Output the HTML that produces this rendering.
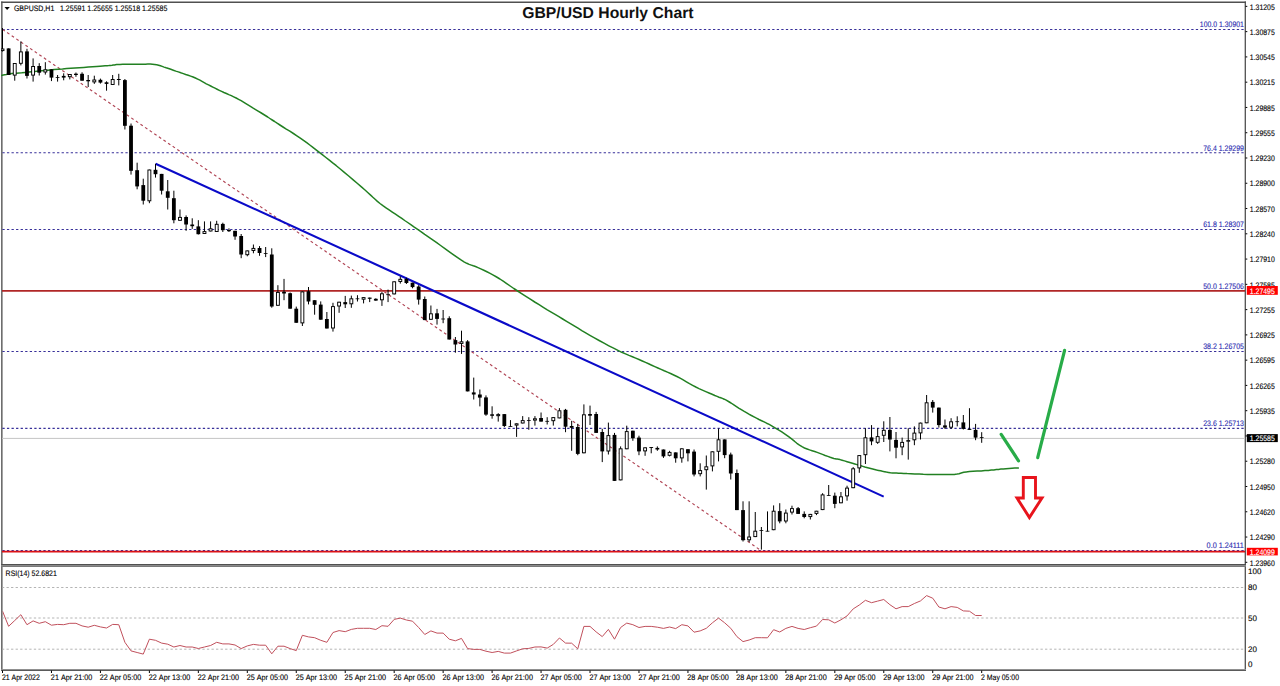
<!DOCTYPE html>
<html><head><meta charset="utf-8"><title>GBP/USD Hourly Chart</title>
<style>html,body{margin:0;padding:0;background:#fff;width:1280px;height:686px;overflow:hidden}
svg,text{font-family:"Liberation Sans",sans-serif}</style></head>
<body>
<svg width="1280" height="686" viewBox="0 0 1280 686" style="display:block" font-family="Liberation Sans, sans-serif" text-rendering="geometricPrecision">
<rect width="1280" height="686" fill="#fff"/>
<defs><clipPath id="cm"><rect x="1" y="1.5" width="1244.6" height="563"/></clipPath><clipPath id="cr"><rect x="2.5" y="567" width="1242.5" height="102"/></clipPath></defs>
<line x1="1.2" y1="2.2" x2="1246" y2="2.2" stroke="#505050" stroke-width="1.35"/>
<line x1="1.85" y1="1.5" x2="1.85" y2="671" stroke="#505050" stroke-width="1.35"/>
<line x1="1245.3" y1="1.5" x2="1245.3" y2="671" stroke="#505050" stroke-width="1.3"/>
<rect x="1.2" y="564" width="1244.8" height="1" fill="#505050"/>
<rect x="1.2" y="565" width="1244.8" height="1" fill="#8a8a8a"/>
<rect x="1.2" y="566" width="1244.8" height="1" fill="#7a7a7a"/>
<rect x="1.2" y="669" width="1244.8" height="1" fill="#909090"/>
<rect x="1.2" y="670" width="1244.8" height="1" fill="#5a5a5a"/>
<g clip-path="url(#cm)">
<line x1="2" y1="438.4" x2="1245" y2="438.4" stroke="#c4c4c4" stroke-width="1"/>
<line x1="2.395" y1="29.50" x2="1245" y2="29.50" stroke="#38309a" stroke-width="1.15" stroke-dasharray="2.3 2.255"/>
<line x1="2.395" y1="152.70" x2="1245" y2="152.70" stroke="#38309a" stroke-width="1.15" stroke-dasharray="2.3 2.255"/>
<line x1="2.395" y1="229.45" x2="1245" y2="229.45" stroke="#38309a" stroke-width="1.15" stroke-dasharray="2.3 2.255"/>
<line x1="2.395" y1="351.50" x2="1245" y2="351.50" stroke="#38309a" stroke-width="1.15" stroke-dasharray="2.3 2.255"/>
<line x1="2.395" y1="428.40" x2="1245" y2="428.40" stroke="#38309a" stroke-width="1.15" stroke-dasharray="2.3 2.255"/>
<line x1="2.395" y1="550.50" x2="1245" y2="550.50" stroke="#38309a" stroke-width="1.15" stroke-dasharray="2.3 2.255"/>
<line x1="2" y1="290.9" x2="1245" y2="290.9" stroke="#b02626" stroke-width="1.7"/>
<line x1="2" y1="551.7" x2="1245" y2="551.7" stroke="#dc1216" stroke-width="1.7"/>
<line x1="2.5" y1="29.4" x2="761.4" y2="550.8" stroke="#b04454" stroke-width="1.15" stroke-dasharray="2.8 2.78"/>
<polyline fill="none" stroke="#228022" stroke-width="1.5" stroke-linejoin="round" points="1.2,75.5 2.1,75.3 3.3,75.0 4.7,74.7 6.3,74.4 8.1,74.0 10.0,73.8 12.0,73.5 14.2,73.3 16.5,73.2 19.0,73.0 21.8,72.8 25.0,72.5 28.6,72.1 32.6,71.7 36.9,71.3 41.3,70.8 45.7,70.4 50.0,70.0 54.2,69.6 58.3,69.3 62.5,69.0 66.7,68.6 70.8,68.3 75.0,68.0 79.3,67.7 83.8,67.4 88.3,67.0 92.6,66.7 96.6,66.4 100.0,66.2 102.8,66.0 105.1,65.8 107.1,65.7 108.8,65.6 110.4,65.4 112.0,65.3 113.4,65.1 114.5,65.0 115.5,64.8 116.6,64.6 118.0,64.5 120.0,64.4 122.7,64.3 126.0,64.3 129.6,64.3 133.3,64.3 136.8,64.3 140.0,64.3 142.8,64.3 145.4,64.2 147.8,64.1 150.2,64.1 152.4,64.2 154.6,64.4 156.7,64.8 158.6,65.2 160.4,65.8 162.2,66.4 164.1,67.1 166.2,67.8 168.5,68.5 170.8,69.3 173.3,70.2 175.8,71.1 178.3,71.9 180.8,72.8 183.3,73.6 185.7,74.5 188.2,75.3 190.6,76.1 193.1,77.0 195.4,78.0 197.7,79.1 199.9,80.2 202.0,81.4 204.2,82.6 206.3,83.8 208.5,84.9 210.7,86.0 212.8,87.1 215.0,88.2 217.1,89.2 219.3,90.3 221.6,91.4 223.9,92.5 226.4,93.5 228.8,94.6 231.3,95.6 233.7,96.8 236.2,98.0 238.6,99.3 241.1,100.7 243.5,102.2 245.9,103.7 248.4,105.2 250.8,106.7 253.2,108.2 255.6,109.6 258.1,111.1 260.5,112.5 262.9,114.0 265.3,115.5 267.7,117.0 269.9,118.5 272.2,120.0 274.6,121.5 277.1,123.2 279.9,125.0 283.0,127.0 286.3,129.1 289.8,131.2 293.4,133.5 296.9,135.8 300.3,138.1 303.5,140.4 306.7,142.7 309.8,145.0 312.9,147.4 316.1,149.9 319.3,152.4 322.6,154.9 325.9,157.5 329.3,160.1 332.7,162.9 336.3,165.7 340.0,168.8 344.0,172.1 348.4,175.8 352.9,179.6 357.2,183.3 361.4,186.9 365.0,190.0 368.0,192.7 370.6,195.1 372.9,197.3 375.1,199.3 377.4,201.4 380.0,203.5 382.9,205.7 386.0,207.8 389.1,209.9 392.3,212.1 395.5,214.2 398.7,216.3 401.8,218.4 404.7,220.5 407.7,222.5 410.8,224.6 413.9,226.9 417.3,229.2 420.9,231.7 424.7,234.4 428.7,237.1 432.7,239.9 436.7,242.7 440.6,245.5 444.6,248.3 448.7,251.3 452.9,254.3 456.9,257.1 460.6,259.7 464.0,261.8 466.8,263.3 469.2,264.4 471.3,265.1 473.3,265.8 475.5,266.5 478.0,267.6 480.8,268.9 483.8,270.3 486.9,271.8 490.1,273.4 493.3,275.1 496.6,277.0 499.9,279.0 503.2,281.2 506.7,283.6 510.2,286.0 513.8,288.5 517.6,291.0 521.6,293.6 525.9,296.3 530.3,299.1 534.7,302.0 539.1,304.7 543.3,307.3 547.3,309.8 551.2,312.1 555.1,314.4 558.9,316.7 562.7,319.0 566.6,321.3 570.4,323.6 574.2,325.9 578.0,328.2 581.8,330.6 585.7,332.9 589.9,335.3 594.4,337.8 599.1,340.5 604.0,343.2 608.9,345.8 613.6,348.2 617.9,350.4 621.8,352.3 625.5,353.9 629.0,355.4 632.4,356.7 635.7,358.1 639.0,359.5 642.3,361.0 645.5,362.4 648.6,363.8 651.7,365.2 654.8,366.6 657.9,368.0 661.1,369.4 664.2,370.8 667.4,372.1 670.6,373.5 673.7,375.0 676.9,376.5 680.1,378.2 683.2,379.9 686.4,381.8 689.5,383.6 692.6,385.3 695.8,387.0 699.0,388.6 702.4,390.1 705.8,391.6 709.0,393.0 712.1,394.3 714.8,395.5 717.1,396.4 719.0,397.2 720.7,397.8 722.4,398.4 724.2,399.2 726.2,400.2 728.5,401.5 731.0,403.0 733.5,404.7 736.1,406.4 738.7,408.1 741.3,409.7 743.8,411.2 746.4,412.6 748.9,414.1 751.4,415.5 754.0,416.8 756.5,418.2 759.0,419.5 761.6,420.7 764.1,421.9 766.6,423.2 769.2,424.4 771.7,425.8 774.2,427.3 776.7,428.8 779.3,430.3 781.8,431.9 784.3,433.6 786.8,435.3 789.3,437.2 791.9,439.2 794.4,441.2 796.9,443.3 799.5,445.1 802.0,446.7 804.5,448.0 807.1,449.0 809.6,449.9 812.1,450.7 814.7,451.5 817.2,452.4 819.8,453.4 822.5,454.4 825.2,455.5 827.8,456.4 830.2,457.3 832.3,458.0 833.9,458.5 835.2,458.7 836.2,458.9 837.2,459.0 838.4,459.2 840.0,459.6 842.1,460.2 844.5,460.9 847.1,461.7 849.8,462.5 852.4,463.3 854.8,464.0 857.0,464.6 859.0,465.3 860.9,465.8 862.8,466.4 864.8,467.0 866.7,467.5 868.7,468.0 870.7,468.5 872.7,469.0 874.6,469.5 876.6,470.0 878.6,470.4 880.6,470.8 882.5,471.3 884.5,471.7 886.4,472.1 888.4,472.4 890.5,472.7 892.5,472.9 894.4,473.0 896.4,473.1 898.5,473.2 901.0,473.3 903.8,473.4 907.1,473.6 910.8,473.7 914.9,473.9 919.1,474.1 923.3,474.3 927.6,474.4 932.1,474.5 936.8,474.6 941.7,474.6 946.4,474.6 950.7,474.6 954.3,474.4 957.0,474.1 959.0,473.7 960.5,473.2 962.0,472.8 963.8,472.3 966.2,471.9 969.4,471.6 973.1,471.3 977.1,471.1 981.2,470.9 985.0,470.6 988.4,470.4 991.3,470.1 993.9,469.9 996.3,469.6 998.6,469.4 1000.9,469.1 1003.3,468.9 1006.0,468.7 1009.0,468.5 1012.0,468.3 1014.8,468.1 1017.2,468.0 1018.9,467.9"/>
<line x1="155.6" y1="163.7" x2="883.7" y2="496.6" stroke="#0a0ac8" stroke-width="2.1"/>
<line x1="2.50" y1="28.0" x2="2.50" y2="51.5" stroke="#000" stroke-width="1"/>
<rect x="1.05" y="49.0" width="2.9" height="1.6" fill="#fff" stroke="#000" stroke-width="0.95"/>
<line x1="8.62" y1="48.4" x2="8.62" y2="75.0" stroke="#000" stroke-width="1"/>
<rect x="6.72" y="48.4" width="3.8" height="26.6" fill="#000"/>
<line x1="14.74" y1="63.0" x2="14.74" y2="80.7" stroke="#000" stroke-width="1"/>
<rect x="13.29" y="63.5" width="2.9" height="11.6" fill="#fff" stroke="#000" stroke-width="0.95"/>
<line x1="20.86" y1="41.4" x2="20.86" y2="65.4" stroke="#000" stroke-width="1"/>
<rect x="19.41" y="51.9" width="2.9" height="11.4" fill="#fff" stroke="#000" stroke-width="0.95"/>
<line x1="26.98" y1="48.8" x2="26.98" y2="78.5" stroke="#000" stroke-width="1"/>
<rect x="25.08" y="51.4" width="3.8" height="24.5" fill="#000"/>
<line x1="33.10" y1="58.4" x2="33.10" y2="81.6" stroke="#000" stroke-width="1"/>
<rect x="31.65" y="66.5" width="2.9" height="8.6" fill="#fff" stroke="#000" stroke-width="0.95"/>
<line x1="39.22" y1="63.2" x2="39.22" y2="75.5" stroke="#000" stroke-width="1"/>
<rect x="37.32" y="66.0" width="3.8" height="6.7" fill="#000"/>
<line x1="45.34" y1="62.2" x2="45.34" y2="74.6" stroke="#000" stroke-width="1"/>
<rect x="43.89" y="69.8" width="2.9" height="2.2" fill="#fff" stroke="#000" stroke-width="0.95"/>
<line x1="51.46" y1="69.3" x2="51.46" y2="81.1" stroke="#000" stroke-width="1"/>
<rect x="49.56" y="69.3" width="3.8" height="8.3" fill="#000"/>
<line x1="57.58" y1="75.0" x2="57.58" y2="81.6" stroke="#000" stroke-width="1"/>
<rect x="55.68" y="77.0" width="3.8" height="0.8" fill="#000"/>
<line x1="63.70" y1="73.3" x2="63.70" y2="80.3" stroke="#000" stroke-width="1"/>
<rect x="61.80" y="75.9" width="3.8" height="1.7" fill="#000"/>
<line x1="69.82" y1="74.1" x2="69.82" y2="79.4" stroke="#000" stroke-width="1"/>
<rect x="68.37" y="74.5" width="2.9" height="2.2" fill="#fff" stroke="#000" stroke-width="0.95"/>
<line x1="75.94" y1="72.5" x2="75.94" y2="76.8" stroke="#000" stroke-width="1"/>
<rect x="74.04" y="73.7" width="3.8" height="1.3" fill="#000"/>
<line x1="82.06" y1="72.3" x2="82.06" y2="80.7" stroke="#000" stroke-width="1"/>
<rect x="80.16" y="73.8" width="3.8" height="6.9" fill="#000"/>
<line x1="88.18" y1="75.0" x2="88.18" y2="87.0" stroke="#000" stroke-width="1"/>
<rect x="86.28" y="80.0" width="3.8" height="1.3" fill="#000"/>
<line x1="94.30" y1="75.7" x2="94.30" y2="83.9" stroke="#000" stroke-width="1"/>
<rect x="92.85" y="80.0" width="2.9" height="1.9" fill="#fff" stroke="#000" stroke-width="0.95"/>
<line x1="100.42" y1="78.6" x2="100.42" y2="83.6" stroke="#000" stroke-width="1"/>
<rect x="98.52" y="79.8" width="3.8" height="2.8" fill="#000"/>
<line x1="106.54" y1="81.3" x2="106.54" y2="90.7" stroke="#000" stroke-width="1"/>
<rect x="104.64" y="82.3" width="3.8" height="1.6" fill="#000"/>
<line x1="112.66" y1="75.0" x2="112.66" y2="84.9" stroke="#000" stroke-width="1"/>
<rect x="111.21" y="79.5" width="2.9" height="5.0" fill="#fff" stroke="#000" stroke-width="0.95"/>
<line x1="118.78" y1="73.8" x2="118.78" y2="85.4" stroke="#000" stroke-width="1"/>
<rect x="116.88" y="79.0" width="3.8" height="1.0" fill="#000"/>
<line x1="124.90" y1="79.0" x2="124.90" y2="129.5" stroke="#000" stroke-width="1"/>
<rect x="123.00" y="80.1" width="3.8" height="45.7" fill="#000"/>
<line x1="131.02" y1="123.5" x2="131.02" y2="174.6" stroke="#000" stroke-width="1"/>
<rect x="129.12" y="125.7" width="3.8" height="45.1" fill="#000"/>
<line x1="137.14" y1="162.7" x2="137.14" y2="189.3" stroke="#000" stroke-width="1"/>
<rect x="135.24" y="170.2" width="3.8" height="16.2" fill="#000"/>
<line x1="143.26" y1="178.7" x2="143.26" y2="204.5" stroke="#000" stroke-width="1"/>
<rect x="141.36" y="185.1" width="3.8" height="15.6" fill="#000"/>
<line x1="149.38" y1="169.6" x2="149.38" y2="203.2" stroke="#000" stroke-width="1"/>
<rect x="147.93" y="170.0" width="2.9" height="30.8" fill="#fff" stroke="#000" stroke-width="0.95"/>
<line x1="155.50" y1="163.8" x2="155.50" y2="177.6" stroke="#000" stroke-width="1"/>
<rect x="153.60" y="169.8" width="3.8" height="4.4" fill="#000"/>
<line x1="161.62" y1="173.9" x2="161.62" y2="194.5" stroke="#000" stroke-width="1"/>
<rect x="159.72" y="173.9" width="3.8" height="16.8" fill="#000"/>
<line x1="167.74" y1="180.0" x2="167.74" y2="209.5" stroke="#000" stroke-width="1"/>
<rect x="165.84" y="191.3" width="3.8" height="6.5" fill="#000"/>
<line x1="173.86" y1="190.7" x2="173.86" y2="223.3" stroke="#000" stroke-width="1"/>
<rect x="171.96" y="198.2" width="3.8" height="22.0" fill="#000"/>
<line x1="179.98" y1="209.5" x2="179.98" y2="220.8" stroke="#000" stroke-width="1"/>
<rect x="178.53" y="217.4" width="2.9" height="2.9" fill="#fff" stroke="#000" stroke-width="0.95"/>
<line x1="186.10" y1="215.4" x2="186.10" y2="230.8" stroke="#000" stroke-width="1"/>
<rect x="184.20" y="217.0" width="3.8" height="7.5" fill="#000"/>
<line x1="192.22" y1="218.3" x2="192.22" y2="228.9" stroke="#000" stroke-width="1"/>
<rect x="190.32" y="224.5" width="3.8" height="1.7" fill="#000"/>
<line x1="198.34" y1="220.2" x2="198.34" y2="234.5" stroke="#000" stroke-width="1"/>
<rect x="196.44" y="226.4" width="3.8" height="7.8" fill="#000"/>
<line x1="204.46" y1="221.4" x2="204.46" y2="234.0" stroke="#000" stroke-width="1"/>
<rect x="203.01" y="231.6" width="2.9" height="1.9" fill="#fff" stroke="#000" stroke-width="0.95"/>
<line x1="210.58" y1="221.4" x2="210.58" y2="231.4" stroke="#000" stroke-width="1"/>
<rect x="209.13" y="228.8" width="2.9" height="2.2" fill="#fff" stroke="#000" stroke-width="0.95"/>
<line x1="216.70" y1="220.8" x2="216.70" y2="232.0" stroke="#000" stroke-width="1"/>
<rect x="215.25" y="224.3" width="2.9" height="7.2" fill="#fff" stroke="#000" stroke-width="0.95"/>
<line x1="222.82" y1="222.7" x2="222.82" y2="232.0" stroke="#000" stroke-width="1"/>
<rect x="220.92" y="223.9" width="3.8" height="6.3" fill="#000"/>
<line x1="228.94" y1="228.3" x2="228.94" y2="232.0" stroke="#000" stroke-width="1"/>
<rect x="227.04" y="230.0" width="3.8" height="1.2" fill="#000"/>
<line x1="235.06" y1="230.8" x2="235.06" y2="239.8" stroke="#000" stroke-width="1"/>
<rect x="233.16" y="230.8" width="3.8" height="5.7" fill="#000"/>
<line x1="241.18" y1="234.0" x2="241.18" y2="258.2" stroke="#000" stroke-width="1"/>
<rect x="239.28" y="236.0" width="3.8" height="18.5" fill="#000"/>
<line x1="247.30" y1="250.5" x2="247.30" y2="256.3" stroke="#000" stroke-width="1"/>
<rect x="245.85" y="250.9" width="2.9" height="3.8" fill="#fff" stroke="#000" stroke-width="0.95"/>
<line x1="253.42" y1="244.5" x2="253.42" y2="253.3" stroke="#000" stroke-width="1"/>
<rect x="251.97" y="248.4" width="2.9" height="2.1" fill="#fff" stroke="#000" stroke-width="0.95"/>
<line x1="259.54" y1="246.1" x2="259.54" y2="255.8" stroke="#000" stroke-width="1"/>
<rect x="257.64" y="248.0" width="3.8" height="5.0" fill="#000"/>
<line x1="265.66" y1="247.0" x2="265.66" y2="257.1" stroke="#000" stroke-width="1"/>
<rect x="263.76" y="253.0" width="3.8" height="0.8" fill="#000"/>
<line x1="271.78" y1="248.3" x2="271.78" y2="307.7" stroke="#000" stroke-width="1"/>
<rect x="269.88" y="254.5" width="3.8" height="52.0" fill="#000"/>
<line x1="277.90" y1="285.2" x2="277.90" y2="305.8" stroke="#000" stroke-width="1"/>
<rect x="276.45" y="292.4" width="2.9" height="12.9" fill="#fff" stroke="#000" stroke-width="0.95"/>
<line x1="284.02" y1="278.9" x2="284.02" y2="300.2" stroke="#000" stroke-width="1"/>
<rect x="282.12" y="291.7" width="3.8" height="1.8" fill="#000"/>
<line x1="290.14" y1="292.5" x2="290.14" y2="308.7" stroke="#000" stroke-width="1"/>
<rect x="288.24" y="293.2" width="3.8" height="15.5" fill="#000"/>
<line x1="296.26" y1="306.6" x2="296.26" y2="322.8" stroke="#000" stroke-width="1"/>
<rect x="294.36" y="308.7" width="3.8" height="14.1" fill="#000"/>
<line x1="302.38" y1="291.5" x2="302.38" y2="326.0" stroke="#000" stroke-width="1"/>
<rect x="300.93" y="291.9" width="2.9" height="31.0" fill="#fff" stroke="#000" stroke-width="0.95"/>
<line x1="308.50" y1="287.0" x2="308.50" y2="304.4" stroke="#000" stroke-width="1"/>
<rect x="306.60" y="291.2" width="3.8" height="10.3" fill="#000"/>
<line x1="314.62" y1="300.2" x2="314.62" y2="314.7" stroke="#000" stroke-width="1"/>
<rect x="312.72" y="300.2" width="3.8" height="4.6" fill="#000"/>
<line x1="320.74" y1="301.4" x2="320.74" y2="319.7" stroke="#000" stroke-width="1"/>
<rect x="318.84" y="304.6" width="3.8" height="15.1" fill="#000"/>
<line x1="326.86" y1="312.0" x2="326.86" y2="328.5" stroke="#000" stroke-width="1"/>
<rect x="324.96" y="319.0" width="3.8" height="9.5" fill="#000"/>
<line x1="332.98" y1="302.8" x2="332.98" y2="331.6" stroke="#000" stroke-width="1"/>
<rect x="331.53" y="306.6" width="2.9" height="21.4" fill="#fff" stroke="#000" stroke-width="0.95"/>
<line x1="339.10" y1="301.8" x2="339.10" y2="312.8" stroke="#000" stroke-width="1"/>
<rect x="337.65" y="302.2" width="2.9" height="3.8" fill="#fff" stroke="#000" stroke-width="0.95"/>
<line x1="345.22" y1="295.9" x2="345.22" y2="308.0" stroke="#000" stroke-width="1"/>
<rect x="343.32" y="302.1" width="3.8" height="2.2" fill="#000"/>
<line x1="351.34" y1="295.6" x2="351.34" y2="307.8" stroke="#000" stroke-width="1"/>
<rect x="349.89" y="298.8" width="2.9" height="5.0" fill="#fff" stroke="#000" stroke-width="0.95"/>
<line x1="357.46" y1="295.2" x2="357.46" y2="301.5" stroke="#000" stroke-width="1"/>
<rect x="355.56" y="298.4" width="3.8" height="0.8" fill="#000"/>
<line x1="363.58" y1="297.1" x2="363.58" y2="303.4" stroke="#000" stroke-width="1"/>
<rect x="362.13" y="297.6" width="2.9" height="1.6" fill="#fff" stroke="#000" stroke-width="0.95"/>
<line x1="369.70" y1="297.6" x2="369.70" y2="302.1" stroke="#000" stroke-width="1"/>
<rect x="367.80" y="297.6" width="3.8" height="1.2" fill="#000"/>
<line x1="375.82" y1="298.3" x2="375.82" y2="300.8" stroke="#000" stroke-width="1"/>
<rect x="373.92" y="298.8" width="3.8" height="1.8" fill="#000"/>
<line x1="381.94" y1="292.1" x2="381.94" y2="305.9" stroke="#000" stroke-width="1"/>
<rect x="380.49" y="293.8" width="2.9" height="6.0" fill="#fff" stroke="#000" stroke-width="0.95"/>
<line x1="388.06" y1="289.6" x2="388.06" y2="302.1" stroke="#000" stroke-width="1"/>
<rect x="386.16" y="294.3" width="3.8" height="0.8" fill="#000"/>
<line x1="394.18" y1="281.4" x2="394.18" y2="294.4" stroke="#000" stroke-width="1"/>
<rect x="392.73" y="281.8" width="2.9" height="12.1" fill="#fff" stroke="#000" stroke-width="0.95"/>
<line x1="400.30" y1="276.4" x2="400.30" y2="283.6" stroke="#000" stroke-width="1"/>
<rect x="398.85" y="279.3" width="2.9" height="2.2" fill="#fff" stroke="#000" stroke-width="0.95"/>
<line x1="406.42" y1="277.7" x2="406.42" y2="284.0" stroke="#000" stroke-width="1"/>
<rect x="404.52" y="278.9" width="3.8" height="4.1" fill="#000"/>
<line x1="412.54" y1="282.7" x2="412.54" y2="288.3" stroke="#000" stroke-width="1"/>
<rect x="410.64" y="282.7" width="3.8" height="4.4" fill="#000"/>
<line x1="418.66" y1="285.2" x2="418.66" y2="304.6" stroke="#000" stroke-width="1"/>
<rect x="416.76" y="286.5" width="3.8" height="13.1" fill="#000"/>
<line x1="424.78" y1="296.5" x2="424.78" y2="320.1" stroke="#000" stroke-width="1"/>
<rect x="422.88" y="299.0" width="3.8" height="21.1" fill="#000"/>
<line x1="430.90" y1="305.5" x2="430.90" y2="319.8" stroke="#000" stroke-width="1"/>
<rect x="429.45" y="313.8" width="2.9" height="5.5" fill="#fff" stroke="#000" stroke-width="0.95"/>
<line x1="437.02" y1="308.9" x2="437.02" y2="324.6" stroke="#000" stroke-width="1"/>
<rect x="435.12" y="313.3" width="3.8" height="5.6" fill="#000"/>
<line x1="443.14" y1="310.0" x2="443.14" y2="323.2" stroke="#000" stroke-width="1"/>
<rect x="441.24" y="318.6" width="3.8" height="0.8" fill="#000"/>
<line x1="449.26" y1="316.3" x2="449.26" y2="339.5" stroke="#000" stroke-width="1"/>
<rect x="447.36" y="318.2" width="3.8" height="21.3" fill="#000"/>
<line x1="455.38" y1="337.0" x2="455.38" y2="352.7" stroke="#000" stroke-width="1"/>
<rect x="453.48" y="340.1" width="3.8" height="4.4" fill="#000"/>
<line x1="461.50" y1="330.7" x2="461.50" y2="353.9" stroke="#000" stroke-width="1"/>
<rect x="460.05" y="341.8" width="2.9" height="1.6" fill="#fff" stroke="#000" stroke-width="0.95"/>
<line x1="467.62" y1="340.1" x2="467.62" y2="391.4" stroke="#000" stroke-width="1"/>
<rect x="465.72" y="341.4" width="3.8" height="50.0" fill="#000"/>
<line x1="473.74" y1="377.6" x2="473.74" y2="399.5" stroke="#000" stroke-width="1"/>
<rect x="471.84" y="392.4" width="3.8" height="2.1" fill="#000"/>
<line x1="479.86" y1="389.5" x2="479.86" y2="406.4" stroke="#000" stroke-width="1"/>
<rect x="477.96" y="394.5" width="3.8" height="3.1" fill="#000"/>
<line x1="485.98" y1="395.4" x2="485.98" y2="415.8" stroke="#000" stroke-width="1"/>
<rect x="484.08" y="397.4" width="3.8" height="17.2" fill="#000"/>
<line x1="492.10" y1="406.3" x2="492.10" y2="418.7" stroke="#000" stroke-width="1"/>
<rect x="490.20" y="414.3" width="3.8" height="1.5" fill="#000"/>
<line x1="498.22" y1="413.2" x2="498.22" y2="421.6" stroke="#000" stroke-width="1"/>
<rect x="496.77" y="414.6" width="2.9" height="1.1" fill="#fff" stroke="#000" stroke-width="0.95"/>
<line x1="504.34" y1="414.1" x2="504.34" y2="427.1" stroke="#000" stroke-width="1"/>
<rect x="502.44" y="414.1" width="3.8" height="11.9" fill="#000"/>
<line x1="510.46" y1="420.1" x2="510.46" y2="426.7" stroke="#000" stroke-width="1"/>
<rect x="508.56" y="426.0" width="3.8" height="0.8" fill="#000"/>
<line x1="516.58" y1="423.4" x2="516.58" y2="436.9" stroke="#000" stroke-width="1"/>
<rect x="515.13" y="423.8" width="2.9" height="1.3" fill="#fff" stroke="#000" stroke-width="0.95"/>
<line x1="522.70" y1="416.1" x2="522.70" y2="423.4" stroke="#000" stroke-width="1"/>
<rect x="521.25" y="420.6" width="2.9" height="2.4" fill="#fff" stroke="#000" stroke-width="0.95"/>
<line x1="528.82" y1="417.2" x2="528.82" y2="429.8" stroke="#000" stroke-width="1"/>
<rect x="526.92" y="420.1" width="3.8" height="0.8" fill="#000"/>
<line x1="534.94" y1="416.1" x2="534.94" y2="425.6" stroke="#000" stroke-width="1"/>
<rect x="533.49" y="418.8" width="2.9" height="1.3" fill="#fff" stroke="#000" stroke-width="0.95"/>
<line x1="541.06" y1="412.5" x2="541.06" y2="421.6" stroke="#000" stroke-width="1"/>
<rect x="539.16" y="418.0" width="3.8" height="3.6" fill="#000"/>
<line x1="547.18" y1="417.2" x2="547.18" y2="424.5" stroke="#000" stroke-width="1"/>
<rect x="545.28" y="420.9" width="3.8" height="0.8" fill="#000"/>
<line x1="553.30" y1="417.2" x2="553.30" y2="425.6" stroke="#000" stroke-width="1"/>
<rect x="551.85" y="417.6" width="2.9" height="3.1" fill="#fff" stroke="#000" stroke-width="0.95"/>
<line x1="559.42" y1="408.1" x2="559.42" y2="418.3" stroke="#000" stroke-width="1"/>
<rect x="557.97" y="410.8" width="2.9" height="7.1" fill="#fff" stroke="#000" stroke-width="0.95"/>
<line x1="565.54" y1="408.9" x2="565.54" y2="432.2" stroke="#000" stroke-width="1"/>
<rect x="563.64" y="409.8" width="3.8" height="16.9" fill="#000"/>
<line x1="571.66" y1="420.8" x2="571.66" y2="450.8" stroke="#000" stroke-width="1"/>
<rect x="569.76" y="426.0" width="3.8" height="1.8" fill="#000"/>
<line x1="577.78" y1="423.8" x2="577.78" y2="455.2" stroke="#000" stroke-width="1"/>
<rect x="575.88" y="427.0" width="3.8" height="26.9" fill="#000"/>
<line x1="583.90" y1="404.4" x2="583.90" y2="453.3" stroke="#000" stroke-width="1"/>
<rect x="582.45" y="414.8" width="2.9" height="38.0" fill="#fff" stroke="#000" stroke-width="0.95"/>
<line x1="590.02" y1="405.6" x2="590.02" y2="425.0" stroke="#000" stroke-width="1"/>
<rect x="588.12" y="414.0" width="3.8" height="1.7" fill="#000"/>
<line x1="596.14" y1="411.9" x2="596.14" y2="432.9" stroke="#000" stroke-width="1"/>
<rect x="594.24" y="414.0" width="3.8" height="18.9" fill="#000"/>
<line x1="602.26" y1="428.8" x2="602.26" y2="462.1" stroke="#000" stroke-width="1"/>
<rect x="600.36" y="432.0" width="3.8" height="19.4" fill="#000"/>
<line x1="608.38" y1="422.6" x2="608.38" y2="454.5" stroke="#000" stroke-width="1"/>
<rect x="606.93" y="435.6" width="2.9" height="15.4" fill="#fff" stroke="#000" stroke-width="0.95"/>
<line x1="614.50" y1="432.9" x2="614.50" y2="480.9" stroke="#000" stroke-width="1"/>
<rect x="612.60" y="434.9" width="3.8" height="46.0" fill="#000"/>
<line x1="620.62" y1="446.4" x2="620.62" y2="480.3" stroke="#000" stroke-width="1"/>
<rect x="619.17" y="448.8" width="2.9" height="31.1" fill="#fff" stroke="#000" stroke-width="0.95"/>
<line x1="626.74" y1="425.7" x2="626.74" y2="449.2" stroke="#000" stroke-width="1"/>
<rect x="625.29" y="431.6" width="2.9" height="17.2" fill="#fff" stroke="#000" stroke-width="0.95"/>
<line x1="632.86" y1="430.7" x2="632.86" y2="440.8" stroke="#000" stroke-width="1"/>
<rect x="630.96" y="430.7" width="3.8" height="7.5" fill="#000"/>
<line x1="638.98" y1="435.7" x2="638.98" y2="455.2" stroke="#000" stroke-width="1"/>
<rect x="637.08" y="437.6" width="3.8" height="13.8" fill="#000"/>
<line x1="645.10" y1="447.4" x2="645.10" y2="455.8" stroke="#000" stroke-width="1"/>
<rect x="643.65" y="447.8" width="2.9" height="3.1" fill="#fff" stroke="#000" stroke-width="0.95"/>
<line x1="651.22" y1="447.0" x2="651.22" y2="453.3" stroke="#000" stroke-width="1"/>
<rect x="649.32" y="447.0" width="3.8" height="0.9" fill="#000"/>
<line x1="657.34" y1="446.4" x2="657.34" y2="450.8" stroke="#000" stroke-width="1"/>
<rect x="655.44" y="447.9" width="3.8" height="1.6" fill="#000"/>
<line x1="663.46" y1="449.5" x2="663.46" y2="457.9" stroke="#000" stroke-width="1"/>
<rect x="661.56" y="449.5" width="3.8" height="6.9" fill="#000"/>
<line x1="669.58" y1="450.8" x2="669.58" y2="456.4" stroke="#000" stroke-width="1"/>
<rect x="668.13" y="452.4" width="2.9" height="2.9" fill="#fff" stroke="#000" stroke-width="0.95"/>
<line x1="675.70" y1="452.4" x2="675.70" y2="462.7" stroke="#000" stroke-width="1"/>
<rect x="673.80" y="452.4" width="3.8" height="5.9" fill="#000"/>
<line x1="681.82" y1="448.3" x2="681.82" y2="462.7" stroke="#000" stroke-width="1"/>
<rect x="680.37" y="448.8" width="2.9" height="9.1" fill="#fff" stroke="#000" stroke-width="0.95"/>
<line x1="687.94" y1="449.2" x2="687.94" y2="461.4" stroke="#000" stroke-width="1"/>
<rect x="686.04" y="449.2" width="3.8" height="4.1" fill="#000"/>
<line x1="694.06" y1="449.5" x2="694.06" y2="476.4" stroke="#000" stroke-width="1"/>
<rect x="692.16" y="451.6" width="3.8" height="22.9" fill="#000"/>
<line x1="700.18" y1="463.3" x2="700.18" y2="476.4" stroke="#000" stroke-width="1"/>
<rect x="698.73" y="470.6" width="2.9" height="3.1" fill="#fff" stroke="#000" stroke-width="0.95"/>
<line x1="706.30" y1="455.5" x2="706.30" y2="489.6" stroke="#000" stroke-width="1"/>
<rect x="704.85" y="466.8" width="2.9" height="2.9" fill="#fff" stroke="#000" stroke-width="0.95"/>
<line x1="712.42" y1="451.4" x2="712.42" y2="471.4" stroke="#000" stroke-width="1"/>
<rect x="710.97" y="451.8" width="2.9" height="14.1" fill="#fff" stroke="#000" stroke-width="0.95"/>
<line x1="718.54" y1="428.5" x2="718.54" y2="461.4" stroke="#000" stroke-width="1"/>
<rect x="717.09" y="439.8" width="2.9" height="11.5" fill="#fff" stroke="#000" stroke-width="0.95"/>
<line x1="724.66" y1="439.4" x2="724.66" y2="458.2" stroke="#000" stroke-width="1"/>
<rect x="722.76" y="439.4" width="3.8" height="15.7" fill="#000"/>
<line x1="730.78" y1="452.6" x2="730.78" y2="479.5" stroke="#000" stroke-width="1"/>
<rect x="728.88" y="454.5" width="3.8" height="19.0" fill="#000"/>
<line x1="736.90" y1="469.5" x2="736.90" y2="510.1" stroke="#000" stroke-width="1"/>
<rect x="735.00" y="473.0" width="3.8" height="37.1" fill="#000"/>
<line x1="743.02" y1="501.3" x2="743.02" y2="541.5" stroke="#000" stroke-width="1"/>
<rect x="741.12" y="510.1" width="3.8" height="30.1" fill="#000"/>
<line x1="749.14" y1="501.3" x2="749.14" y2="542.1" stroke="#000" stroke-width="1"/>
<rect x="747.69" y="537.0" width="2.9" height="2.8" fill="#fff" stroke="#000" stroke-width="0.95"/>
<line x1="755.26" y1="512.0" x2="755.26" y2="537.1" stroke="#000" stroke-width="1"/>
<rect x="753.81" y="531.2" width="2.9" height="5.4" fill="#fff" stroke="#000" stroke-width="0.95"/>
<line x1="761.38" y1="527.0" x2="761.38" y2="549.6" stroke="#000" stroke-width="1"/>
<rect x="759.48" y="530.0" width="3.8" height="0.8" fill="#000"/>
<line x1="767.50" y1="511.4" x2="767.50" y2="531.4" stroke="#000" stroke-width="1"/>
<rect x="765.60" y="530.8" width="3.8" height="0.8" fill="#000"/>
<line x1="773.62" y1="505.4" x2="773.62" y2="530.2" stroke="#000" stroke-width="1"/>
<rect x="772.17" y="511.2" width="2.9" height="18.5" fill="#fff" stroke="#000" stroke-width="0.95"/>
<line x1="779.74" y1="503.2" x2="779.74" y2="523.3" stroke="#000" stroke-width="1"/>
<rect x="777.84" y="511.1" width="3.8" height="10.3" fill="#000"/>
<line x1="785.86" y1="509.5" x2="785.86" y2="523.3" stroke="#000" stroke-width="1"/>
<rect x="784.41" y="513.1" width="2.9" height="7.9" fill="#fff" stroke="#000" stroke-width="0.95"/>
<line x1="791.98" y1="505.7" x2="791.98" y2="514.5" stroke="#000" stroke-width="1"/>
<rect x="790.53" y="508.6" width="2.9" height="3.5" fill="#fff" stroke="#000" stroke-width="0.95"/>
<line x1="798.10" y1="507.0" x2="798.10" y2="513.9" stroke="#000" stroke-width="1"/>
<rect x="796.20" y="508.2" width="3.8" height="5.7" fill="#000"/>
<line x1="804.22" y1="511.4" x2="804.22" y2="518.3" stroke="#000" stroke-width="1"/>
<rect x="802.32" y="513.9" width="3.8" height="3.1" fill="#000"/>
<line x1="810.34" y1="513.9" x2="810.34" y2="519.5" stroke="#000" stroke-width="1"/>
<rect x="808.89" y="514.4" width="2.9" height="2.2" fill="#fff" stroke="#000" stroke-width="0.95"/>
<line x1="816.46" y1="510.8" x2="816.46" y2="515.1" stroke="#000" stroke-width="1"/>
<rect x="815.01" y="511.2" width="2.9" height="2.2" fill="#fff" stroke="#000" stroke-width="0.95"/>
<line x1="822.58" y1="493.2" x2="822.58" y2="510.1" stroke="#000" stroke-width="1"/>
<rect x="821.13" y="494.9" width="2.9" height="14.7" fill="#fff" stroke="#000" stroke-width="0.95"/>
<line x1="828.70" y1="485.0" x2="828.70" y2="495.7" stroke="#000" stroke-width="1"/>
<rect x="826.80" y="495.0" width="3.8" height="0.8" fill="#000"/>
<line x1="834.82" y1="492.6" x2="834.82" y2="508.2" stroke="#000" stroke-width="1"/>
<rect x="832.92" y="495.7" width="3.8" height="8.2" fill="#000"/>
<line x1="840.94" y1="492.0" x2="840.94" y2="503.2" stroke="#000" stroke-width="1"/>
<rect x="839.49" y="496.8" width="2.9" height="6.0" fill="#fff" stroke="#000" stroke-width="0.95"/>
<line x1="847.06" y1="485.7" x2="847.06" y2="500.7" stroke="#000" stroke-width="1"/>
<rect x="845.61" y="488.1" width="2.9" height="7.8" fill="#fff" stroke="#000" stroke-width="0.95"/>
<line x1="853.18" y1="467.1" x2="853.18" y2="488.2" stroke="#000" stroke-width="1"/>
<rect x="851.73" y="468.8" width="2.9" height="18.9" fill="#fff" stroke="#000" stroke-width="0.95"/>
<line x1="859.30" y1="455.2" x2="859.30" y2="472.8" stroke="#000" stroke-width="1"/>
<rect x="857.85" y="455.6" width="2.9" height="12.3" fill="#fff" stroke="#000" stroke-width="0.95"/>
<line x1="865.42" y1="428.2" x2="865.42" y2="464.0" stroke="#000" stroke-width="1"/>
<rect x="863.97" y="437.8" width="2.9" height="16.9" fill="#fff" stroke="#000" stroke-width="0.95"/>
<line x1="871.54" y1="425.1" x2="871.54" y2="445.2" stroke="#000" stroke-width="1"/>
<rect x="869.64" y="437.4" width="3.8" height="4.0" fill="#000"/>
<line x1="877.66" y1="428.2" x2="877.66" y2="443.9" stroke="#000" stroke-width="1"/>
<rect x="876.21" y="436.6" width="2.9" height="5.7" fill="#fff" stroke="#000" stroke-width="0.95"/>
<line x1="883.78" y1="421.3" x2="883.78" y2="442.0" stroke="#000" stroke-width="1"/>
<rect x="882.33" y="430.3" width="2.9" height="5.0" fill="#fff" stroke="#000" stroke-width="0.95"/>
<line x1="889.90" y1="417.0" x2="889.90" y2="451.4" stroke="#000" stroke-width="1"/>
<rect x="888.00" y="429.9" width="3.8" height="9.6" fill="#000"/>
<line x1="896.02" y1="432.0" x2="896.02" y2="458.3" stroke="#000" stroke-width="1"/>
<rect x="894.12" y="439.9" width="3.8" height="7.8" fill="#000"/>
<line x1="902.14" y1="437.6" x2="902.14" y2="455.2" stroke="#000" stroke-width="1"/>
<rect x="900.69" y="442.4" width="2.9" height="4.5" fill="#fff" stroke="#000" stroke-width="0.95"/>
<line x1="908.26" y1="428.2" x2="908.26" y2="459.6" stroke="#000" stroke-width="1"/>
<rect x="906.81" y="440.6" width="2.9" height="0.6" fill="#fff" stroke="#000" stroke-width="0.95"/>
<line x1="914.38" y1="426.4" x2="914.38" y2="445.2" stroke="#000" stroke-width="1"/>
<rect x="912.93" y="433.1" width="2.9" height="6.7" fill="#fff" stroke="#000" stroke-width="0.95"/>
<line x1="920.50" y1="422.6" x2="920.50" y2="439.5" stroke="#000" stroke-width="1"/>
<rect x="919.05" y="423.1" width="2.9" height="9.8" fill="#fff" stroke="#000" stroke-width="0.95"/>
<line x1="926.62" y1="395.0" x2="926.62" y2="423.2" stroke="#000" stroke-width="1"/>
<rect x="925.17" y="402.8" width="2.9" height="20.0" fill="#fff" stroke="#000" stroke-width="0.95"/>
<line x1="932.74" y1="400.0" x2="932.74" y2="412.6" stroke="#000" stroke-width="1"/>
<rect x="930.84" y="401.9" width="3.8" height="5.7" fill="#000"/>
<line x1="938.86" y1="407.6" x2="938.86" y2="427.6" stroke="#000" stroke-width="1"/>
<rect x="936.96" y="407.6" width="3.8" height="17.5" fill="#000"/>
<line x1="944.98" y1="419.5" x2="944.98" y2="428.9" stroke="#000" stroke-width="1"/>
<rect x="943.08" y="425.4" width="3.8" height="2.2" fill="#000"/>
<line x1="951.10" y1="418.2" x2="951.10" y2="428.9" stroke="#000" stroke-width="1"/>
<rect x="949.65" y="421.8" width="2.9" height="5.4" fill="#fff" stroke="#000" stroke-width="0.95"/>
<line x1="957.22" y1="416.3" x2="957.22" y2="426.4" stroke="#000" stroke-width="1"/>
<rect x="955.32" y="421.3" width="3.8" height="0.8" fill="#000"/>
<line x1="963.34" y1="415.0" x2="963.34" y2="429.5" stroke="#000" stroke-width="1"/>
<rect x="961.44" y="422.4" width="3.8" height="6.5" fill="#000"/>
<line x1="969.46" y1="408.2" x2="969.46" y2="429.9" stroke="#000" stroke-width="1"/>
<rect x="967.56" y="428.9" width="3.8" height="1.0" fill="#000"/>
<line x1="975.58" y1="423.9" x2="975.58" y2="440.2" stroke="#000" stroke-width="1"/>
<rect x="973.68" y="429.9" width="3.8" height="7.7" fill="#000"/>
<line x1="981.70" y1="432.2" x2="981.70" y2="442.8" stroke="#000" stroke-width="1"/>
<rect x="979.80" y="437.2" width="3.8" height="0.8" fill="#000"/>
</g>
<g clip-path="url(#cr)">
<line x1="1.945" y1="587.50" x2="1245" y2="587.50" stroke="#b4b4b4" stroke-width="1" stroke-dasharray="2.3 2.255"/>
<line x1="1.945" y1="618.00" x2="1245" y2="618.00" stroke="#b4b4b4" stroke-width="1" stroke-dasharray="2.3 2.255"/>
<line x1="1.945" y1="649.20" x2="1245" y2="649.20" stroke="#b4b4b4" stroke-width="1" stroke-dasharray="2.3 2.255"/>
<polyline fill="none" stroke="#c0505c" stroke-width="1.0" stroke-linejoin="round" points="2.50,611.1 8.62,626.3 14.74,620.5 20.86,614.7 26.98,624.7 33.10,620.9 39.22,623.3 45.34,621.7 51.46,625.2 57.58,624.4 63.70,624.7 69.82,623.3 75.94,623.3 82.06,625.9 88.18,627.2 94.30,625.3 100.42,626.9 106.54,628.0 112.66,624.4 118.78,624.7 124.90,642.3 131.02,650.9 137.14,652.5 143.26,654.1 149.38,639.2 155.50,640.3 161.62,643.1 167.74,644.2 173.86,647.0 179.98,645.5 186.10,647.0 192.22,647.0 198.34,648.5 204.46,647.0 210.58,645.5 216.70,642.3 222.82,643.9 228.94,643.9 235.06,645.0 241.18,648.6 247.30,645.9 253.42,644.4 259.54,645.2 265.66,645.2 271.78,653.8 277.90,646.2 284.02,646.2 290.14,648.6 296.26,650.6 302.38,635.3 308.50,636.9 314.62,637.7 320.74,640.3 326.86,642.3 332.98,632.5 339.10,630.6 345.22,631.7 351.34,629.4 357.46,628.3 363.58,628.3 369.70,628.3 375.82,629.5 381.94,625.7 388.06,626.3 394.18,619.4 400.30,618.1 406.42,620.0 412.54,621.2 418.66,627.5 424.78,634.5 430.90,630.9 437.02,633.1 443.14,633.1 449.26,639.2 455.38,640.8 461.50,638.4 467.62,648.6 473.74,649.4 479.86,649.4 485.98,651.2 492.10,652.5 498.22,651.4 504.34,653.1 510.46,653.1 516.58,650.9 522.70,648.8 528.82,648.4 534.94,647.0 541.06,646.9 547.18,648.1 553.30,644.4 559.42,638.0 565.54,643.1 571.66,643.2 577.78,648.8 583.90,626.4 590.02,626.4 596.14,631.9 602.26,636.6 608.38,629.4 614.50,639.2 620.62,627.5 626.74,623.1 632.86,624.7 638.98,627.5 645.10,626.4 651.22,626.4 657.34,627.2 663.46,628.4 669.58,627.0 675.70,628.6 681.82,624.7 687.94,625.9 694.06,632.2 700.18,630.9 706.30,628.3 712.42,622.8 718.54,618.1 724.66,622.8 730.78,628.3 736.90,636.6 743.02,641.6 749.14,640.0 755.26,637.7 761.38,637.7 767.50,637.8 773.62,629.7 779.74,632.0 785.86,628.4 791.98,626.4 798.10,628.4 804.22,629.5 810.34,627.7 816.46,626.1 822.58,619.5 828.70,619.8 834.82,623.0 840.94,619.8 847.06,615.9 853.18,608.9 859.30,605.0 865.42,600.3 871.54,602.7 877.66,601.1 883.78,599.5 889.90,604.7 896.02,608.8 902.14,606.6 908.26,606.6 914.38,603.5 920.50,600.9 926.62,595.6 932.74,598.2 938.86,607.0 944.98,608.8 951.10,606.6 957.22,607.4 963.34,610.9 969.46,611.2 975.58,615.5 981.70,615.5"/>
</g>
<line x1="1245.5" y1="6.37" x2="1247.3" y2="6.37" stroke="#000" stroke-width="1"/>
<text x="1249.80" y="9.57" font-size="8.0" fill="#000" stroke="#000" stroke-width="0.12" textLength="25.00" lengthAdjust="spacingAndGlyphs">1.31205</text>
<line x1="1245.5" y1="31.64" x2="1247.3" y2="31.64" stroke="#000" stroke-width="1"/>
<text x="1249.80" y="34.84" font-size="8.0" fill="#000" stroke="#000" stroke-width="0.12" textLength="25.00" lengthAdjust="spacingAndGlyphs">1.30875</text>
<line x1="1245.5" y1="56.91" x2="1247.3" y2="56.91" stroke="#000" stroke-width="1"/>
<text x="1249.80" y="60.11" font-size="8.0" fill="#000" stroke="#000" stroke-width="0.12" textLength="25.00" lengthAdjust="spacingAndGlyphs">1.30545</text>
<line x1="1245.5" y1="82.18" x2="1247.3" y2="82.18" stroke="#000" stroke-width="1"/>
<text x="1249.80" y="85.38" font-size="8.0" fill="#000" stroke="#000" stroke-width="0.12" textLength="25.00" lengthAdjust="spacingAndGlyphs">1.30215</text>
<line x1="1245.5" y1="107.45" x2="1247.3" y2="107.45" stroke="#000" stroke-width="1"/>
<text x="1249.80" y="110.65" font-size="8.0" fill="#000" stroke="#000" stroke-width="0.12" textLength="25.00" lengthAdjust="spacingAndGlyphs">1.29885</text>
<line x1="1245.5" y1="132.72" x2="1247.3" y2="132.72" stroke="#000" stroke-width="1"/>
<text x="1249.80" y="135.92" font-size="8.0" fill="#000" stroke="#000" stroke-width="0.12" textLength="25.00" lengthAdjust="spacingAndGlyphs">1.29555</text>
<line x1="1245.5" y1="157.99" x2="1247.3" y2="157.99" stroke="#000" stroke-width="1"/>
<text x="1249.80" y="161.19" font-size="8.0" fill="#000" stroke="#000" stroke-width="0.12" textLength="25.00" lengthAdjust="spacingAndGlyphs">1.29230</text>
<line x1="1245.5" y1="183.26" x2="1247.3" y2="183.26" stroke="#000" stroke-width="1"/>
<text x="1249.80" y="186.46" font-size="8.0" fill="#000" stroke="#000" stroke-width="0.12" textLength="25.00" lengthAdjust="spacingAndGlyphs">1.28900</text>
<line x1="1245.5" y1="208.53" x2="1247.3" y2="208.53" stroke="#000" stroke-width="1"/>
<text x="1249.80" y="211.73" font-size="8.0" fill="#000" stroke="#000" stroke-width="0.12" textLength="25.00" lengthAdjust="spacingAndGlyphs">1.28570</text>
<line x1="1245.5" y1="233.80" x2="1247.3" y2="233.80" stroke="#000" stroke-width="1"/>
<text x="1249.80" y="237.00" font-size="8.0" fill="#000" stroke="#000" stroke-width="0.12" textLength="25.00" lengthAdjust="spacingAndGlyphs">1.28240</text>
<line x1="1245.5" y1="259.07" x2="1247.3" y2="259.07" stroke="#000" stroke-width="1"/>
<text x="1249.80" y="262.27" font-size="8.0" fill="#000" stroke="#000" stroke-width="0.12" textLength="25.00" lengthAdjust="spacingAndGlyphs">1.27910</text>
<line x1="1245.5" y1="284.34" x2="1247.3" y2="284.34" stroke="#000" stroke-width="1"/>
<text x="1249.80" y="287.54" font-size="8.0" fill="#000" stroke="#000" stroke-width="0.12" textLength="25.00" lengthAdjust="spacingAndGlyphs">1.27585</text>
<line x1="1245.5" y1="309.61" x2="1247.3" y2="309.61" stroke="#000" stroke-width="1"/>
<text x="1249.80" y="312.81" font-size="8.0" fill="#000" stroke="#000" stroke-width="0.12" textLength="25.00" lengthAdjust="spacingAndGlyphs">1.27255</text>
<line x1="1245.5" y1="334.88" x2="1247.3" y2="334.88" stroke="#000" stroke-width="1"/>
<text x="1249.80" y="338.08" font-size="8.0" fill="#000" stroke="#000" stroke-width="0.12" textLength="25.00" lengthAdjust="spacingAndGlyphs">1.26925</text>
<line x1="1245.5" y1="360.15" x2="1247.3" y2="360.15" stroke="#000" stroke-width="1"/>
<text x="1249.80" y="363.35" font-size="8.0" fill="#000" stroke="#000" stroke-width="0.12" textLength="25.00" lengthAdjust="spacingAndGlyphs">1.26595</text>
<line x1="1245.5" y1="385.42" x2="1247.3" y2="385.42" stroke="#000" stroke-width="1"/>
<text x="1249.80" y="388.62" font-size="8.0" fill="#000" stroke="#000" stroke-width="0.12" textLength="25.00" lengthAdjust="spacingAndGlyphs">1.26265</text>
<line x1="1245.5" y1="410.69" x2="1247.3" y2="410.69" stroke="#000" stroke-width="1"/>
<text x="1249.80" y="413.89" font-size="8.0" fill="#000" stroke="#000" stroke-width="0.12" textLength="25.00" lengthAdjust="spacingAndGlyphs">1.25935</text>
<line x1="1245.5" y1="435.96" x2="1247.3" y2="435.96" stroke="#000" stroke-width="1"/>
<line x1="1245.5" y1="461.23" x2="1247.3" y2="461.23" stroke="#000" stroke-width="1"/>
<text x="1249.80" y="464.43" font-size="8.0" fill="#000" stroke="#000" stroke-width="0.12" textLength="25.00" lengthAdjust="spacingAndGlyphs">1.25280</text>
<line x1="1245.5" y1="486.50" x2="1247.3" y2="486.50" stroke="#000" stroke-width="1"/>
<text x="1249.80" y="489.70" font-size="8.0" fill="#000" stroke="#000" stroke-width="0.12" textLength="25.00" lengthAdjust="spacingAndGlyphs">1.24950</text>
<line x1="1245.5" y1="511.77" x2="1247.3" y2="511.77" stroke="#000" stroke-width="1"/>
<text x="1249.80" y="514.97" font-size="8.0" fill="#000" stroke="#000" stroke-width="0.12" textLength="25.00" lengthAdjust="spacingAndGlyphs">1.24620</text>
<line x1="1245.5" y1="537.04" x2="1247.3" y2="537.04" stroke="#000" stroke-width="1"/>
<text x="1249.80" y="540.24" font-size="8.0" fill="#000" stroke="#000" stroke-width="0.12" textLength="25.00" lengthAdjust="spacingAndGlyphs">1.24290</text>
<line x1="1245.5" y1="562.31" x2="1247.3" y2="562.31" stroke="#000" stroke-width="1"/>
<text x="1249.80" y="565.51" font-size="8.0" fill="#000" stroke="#000" stroke-width="0.12" textLength="25.00" lengthAdjust="spacingAndGlyphs">1.23960</text>
<rect x="1246.8" y="286" width="31" height="8.8" fill="#f00"/>
<text x="1249.80" y="293.70" font-size="8.0" fill="#fff" stroke="#fff" stroke-width="0.12" textLength="25.00" lengthAdjust="spacingAndGlyphs">1.27495</text>
<rect x="1246.8" y="434.1" width="31" height="8" fill="#000"/>
<text x="1249.80" y="441.00" font-size="8.0" fill="#fff" stroke="#fff" stroke-width="0.12" textLength="25.00" lengthAdjust="spacingAndGlyphs">1.25585</text>
<rect x="1246.8" y="547.8" width="31" height="7.6" fill="#f00"/>
<text x="1249.80" y="554.50" font-size="8.0" fill="#fff" stroke="#fff" stroke-width="0.12" textLength="25.00" lengthAdjust="spacingAndGlyphs">1.24099</text>
<text x="1243.90" y="27.40" font-size="8.0" fill="#2c2cb0" stroke="#2c2cb0" stroke-width="0.12" text-anchor="end" textLength="44.07" lengthAdjust="spacingAndGlyphs">100.0&#160;1.30901</text>
<text x="1243.90" y="150.70" font-size="8.0" fill="#2c2cb0" stroke="#2c2cb0" stroke-width="0.12" text-anchor="end" textLength="40.68" lengthAdjust="spacingAndGlyphs">76.4&#160;1.29299</text>
<text x="1243.90" y="227.35" font-size="8.0" fill="#2c2cb0" stroke="#2c2cb0" stroke-width="0.12" text-anchor="end" textLength="40.68" lengthAdjust="spacingAndGlyphs">61.8&#160;1.28307</text>
<text x="1243.90" y="288.60" font-size="8.0" fill="#2c2cb0" stroke="#2c2cb0" stroke-width="0.12" text-anchor="end" textLength="40.68" lengthAdjust="spacingAndGlyphs">50.0&#160;1.27506</text>
<text x="1243.90" y="349.40" font-size="8.0" fill="#2c2cb0" stroke="#2c2cb0" stroke-width="0.12" text-anchor="end" textLength="40.68" lengthAdjust="spacingAndGlyphs">38.2&#160;1.26705</text>
<text x="1243.90" y="426.30" font-size="8.0" fill="#2c2cb0" stroke="#2c2cb0" stroke-width="0.12" text-anchor="end" textLength="40.68" lengthAdjust="spacingAndGlyphs">23.6&#160;1.25713</text>
<text x="1243.90" y="548.40" font-size="8.0" fill="#2c2cb0" stroke="#2c2cb0" stroke-width="0.12" text-anchor="end" textLength="37.29" lengthAdjust="spacingAndGlyphs">0.0&#160;1.24111</text>
<text x="1248.00" y="573.90" font-size="8.0" fill="#000" stroke="#000" stroke-width="0.12">100</text>
<text x="1248.00" y="589.90" font-size="8.0" fill="#000" stroke="#000" stroke-width="0.12">80</text>
<text x="1248.00" y="620.60" font-size="8.0" fill="#000" stroke="#000" stroke-width="0.12">50</text>
<text x="1248.00" y="652.00" font-size="8.0" fill="#000" stroke="#000" stroke-width="0.12">20</text>
<text x="1248.00" y="667.20" font-size="8.0" fill="#000" stroke="#000" stroke-width="0.12">0</text>
<line x1="2.50" y1="670.5" x2="2.50" y2="673" stroke="#000" stroke-width="1"/>
<text x="1.90" y="679.80" font-size="8.0" fill="#000" stroke="#000" stroke-width="0.12" textLength="37.95" lengthAdjust="spacingAndGlyphs">21&#160;Apr&#160;2022</text>
<line x1="51.46" y1="670.5" x2="51.46" y2="673" stroke="#000" stroke-width="1"/>
<text x="50.86" y="679.80" font-size="8.0" fill="#000" stroke="#000" stroke-width="0.12" textLength="41.40" lengthAdjust="spacingAndGlyphs">21&#160;Apr&#160;21:00</text>
<line x1="100.42" y1="670.5" x2="100.42" y2="673" stroke="#000" stroke-width="1"/>
<text x="99.82" y="679.80" font-size="8.0" fill="#000" stroke="#000" stroke-width="0.12" textLength="41.40" lengthAdjust="spacingAndGlyphs">22&#160;Apr&#160;05:00</text>
<line x1="149.38" y1="670.5" x2="149.38" y2="673" stroke="#000" stroke-width="1"/>
<text x="148.78" y="679.80" font-size="8.0" fill="#000" stroke="#000" stroke-width="0.12" textLength="41.40" lengthAdjust="spacingAndGlyphs">22&#160;Apr&#160;13:00</text>
<line x1="198.34" y1="670.5" x2="198.34" y2="673" stroke="#000" stroke-width="1"/>
<text x="197.74" y="679.80" font-size="8.0" fill="#000" stroke="#000" stroke-width="0.12" textLength="41.40" lengthAdjust="spacingAndGlyphs">22&#160;Apr&#160;21:00</text>
<line x1="247.30" y1="670.5" x2="247.30" y2="673" stroke="#000" stroke-width="1"/>
<text x="246.70" y="679.80" font-size="8.0" fill="#000" stroke="#000" stroke-width="0.12" textLength="41.40" lengthAdjust="spacingAndGlyphs">25&#160;Apr&#160;05:00</text>
<line x1="296.26" y1="670.5" x2="296.26" y2="673" stroke="#000" stroke-width="1"/>
<text x="295.66" y="679.80" font-size="8.0" fill="#000" stroke="#000" stroke-width="0.12" textLength="41.40" lengthAdjust="spacingAndGlyphs">25&#160;Apr&#160;13:00</text>
<line x1="345.22" y1="670.5" x2="345.22" y2="673" stroke="#000" stroke-width="1"/>
<text x="344.62" y="679.80" font-size="8.0" fill="#000" stroke="#000" stroke-width="0.12" textLength="41.40" lengthAdjust="spacingAndGlyphs">25&#160;Apr&#160;21:00</text>
<line x1="394.18" y1="670.5" x2="394.18" y2="673" stroke="#000" stroke-width="1"/>
<text x="393.58" y="679.80" font-size="8.0" fill="#000" stroke="#000" stroke-width="0.12" textLength="41.40" lengthAdjust="spacingAndGlyphs">26&#160;Apr&#160;05:00</text>
<line x1="443.14" y1="670.5" x2="443.14" y2="673" stroke="#000" stroke-width="1"/>
<text x="442.54" y="679.80" font-size="8.0" fill="#000" stroke="#000" stroke-width="0.12" textLength="41.40" lengthAdjust="spacingAndGlyphs">26&#160;Apr&#160;13:00</text>
<line x1="492.10" y1="670.5" x2="492.10" y2="673" stroke="#000" stroke-width="1"/>
<text x="491.50" y="679.80" font-size="8.0" fill="#000" stroke="#000" stroke-width="0.12" textLength="41.40" lengthAdjust="spacingAndGlyphs">26&#160;Apr&#160;21:00</text>
<line x1="541.06" y1="670.5" x2="541.06" y2="673" stroke="#000" stroke-width="1"/>
<text x="540.46" y="679.80" font-size="8.0" fill="#000" stroke="#000" stroke-width="0.12" textLength="41.40" lengthAdjust="spacingAndGlyphs">27&#160;Apr&#160;05:00</text>
<line x1="590.02" y1="670.5" x2="590.02" y2="673" stroke="#000" stroke-width="1"/>
<text x="589.42" y="679.80" font-size="8.0" fill="#000" stroke="#000" stroke-width="0.12" textLength="41.40" lengthAdjust="spacingAndGlyphs">27&#160;Apr&#160;13:00</text>
<line x1="638.98" y1="670.5" x2="638.98" y2="673" stroke="#000" stroke-width="1"/>
<text x="638.38" y="679.80" font-size="8.0" fill="#000" stroke="#000" stroke-width="0.12" textLength="41.40" lengthAdjust="spacingAndGlyphs">27&#160;Apr&#160;21:00</text>
<line x1="687.94" y1="670.5" x2="687.94" y2="673" stroke="#000" stroke-width="1"/>
<text x="687.34" y="679.80" font-size="8.0" fill="#000" stroke="#000" stroke-width="0.12" textLength="41.40" lengthAdjust="spacingAndGlyphs">28&#160;Apr&#160;05:00</text>
<line x1="736.90" y1="670.5" x2="736.90" y2="673" stroke="#000" stroke-width="1"/>
<text x="736.30" y="679.80" font-size="8.0" fill="#000" stroke="#000" stroke-width="0.12" textLength="41.40" lengthAdjust="spacingAndGlyphs">28&#160;Apr&#160;13:00</text>
<line x1="785.86" y1="670.5" x2="785.86" y2="673" stroke="#000" stroke-width="1"/>
<text x="785.26" y="679.80" font-size="8.0" fill="#000" stroke="#000" stroke-width="0.12" textLength="41.40" lengthAdjust="spacingAndGlyphs">28&#160;Apr&#160;21:00</text>
<line x1="834.82" y1="670.5" x2="834.82" y2="673" stroke="#000" stroke-width="1"/>
<text x="834.22" y="679.80" font-size="8.0" fill="#000" stroke="#000" stroke-width="0.12" textLength="41.40" lengthAdjust="spacingAndGlyphs">29&#160;Apr&#160;05:00</text>
<line x1="883.78" y1="670.5" x2="883.78" y2="673" stroke="#000" stroke-width="1"/>
<text x="883.18" y="679.80" font-size="8.0" fill="#000" stroke="#000" stroke-width="0.12" textLength="41.40" lengthAdjust="spacingAndGlyphs">29&#160;Apr&#160;13:00</text>
<line x1="932.74" y1="670.5" x2="932.74" y2="673" stroke="#000" stroke-width="1"/>
<text x="932.14" y="679.80" font-size="8.0" fill="#000" stroke="#000" stroke-width="0.12" textLength="41.40" lengthAdjust="spacingAndGlyphs">29&#160;Apr&#160;21:00</text>
<line x1="981.70" y1="670.5" x2="981.70" y2="673" stroke="#000" stroke-width="1"/>
<text x="981.10" y="679.80" font-size="8.0" fill="#000" stroke="#000" stroke-width="0.12" textLength="37.95" lengthAdjust="spacingAndGlyphs">2&#160;May&#160;05:00</text>
<path d="M4.5,6.9 L9.8,6.9 L7.15,9.9 Z" fill="#000"/>
<text x="13.90" y="10.80" font-size="8.0" fill="#000" stroke="#000" stroke-width="0.12" textLength="40.40" lengthAdjust="spacingAndGlyphs">GBPUSD,H1</text>
<text x="60.00" y="10.80" font-size="8.0" fill="#000" stroke="#000" stroke-width="0.12" textLength="107.40" lengthAdjust="spacingAndGlyphs">1.25591&#160;1.25655&#160;1.25518&#160;1.25585</text>
<text x="5.60" y="575.80" font-size="8.0" fill="#000" stroke="#000" stroke-width="0.12" textLength="51.20" lengthAdjust="spacingAndGlyphs">RSI(14)&#160;52.6821</text>
<text x="522.2" y="17.8" font-size="15.6" font-weight="bold" fill="#111" textLength="171.4" lengthAdjust="spacingAndGlyphs">GBP/USD Hourly Chart</text>
<line x1="1001.2" y1="434.4" x2="1018.5" y2="460.8" stroke="#28ac48" stroke-width="3.2" stroke-linecap="round"/>
<line x1="1037.7" y1="457.6" x2="1064.6" y2="350.4" stroke="#28ac48" stroke-width="3.2" stroke-linecap="round"/>
<path d="M1023.3,477.5 L1035.5,477.5 L1035.5,498 L1042,498 L1029.4,517.5 L1017,498 L1023.3,498 Z" fill="none" stroke="#e8141c" stroke-width="2.9" stroke-linejoin="miter"/>
</svg>
</body></html>
